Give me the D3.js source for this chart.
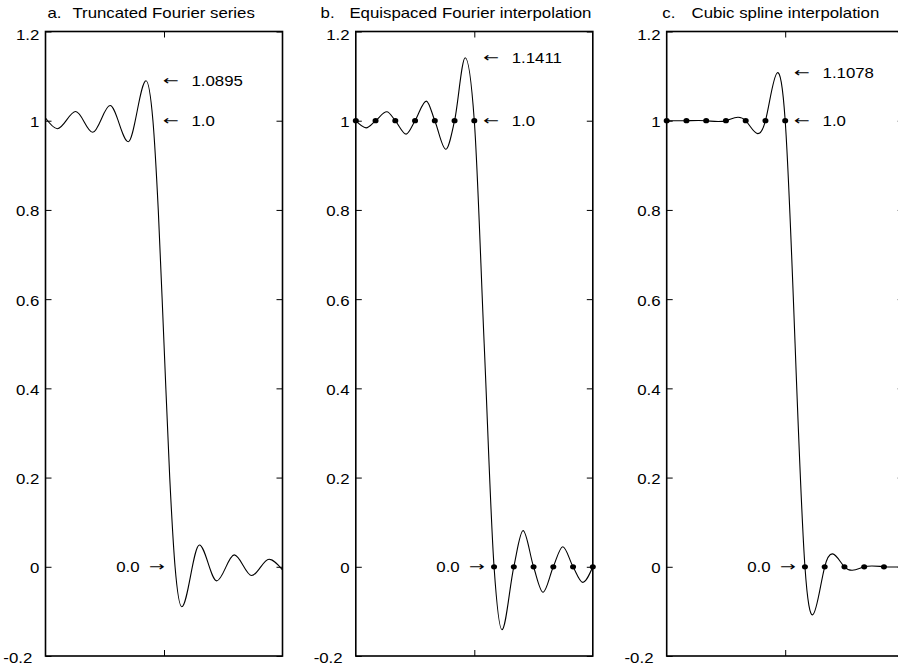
<!DOCTYPE html>
<html><head><meta charset="utf-8">
<script src="https://cdn.jsdelivr.net/npm/d3@7"></script>
<style>
html,body{margin:0;padding:0;background:#fff;}
svg{display:block;}
text{font-family:"Liberation Sans",Arial,Helvetica,sans-serif;font-size:14.5px;fill:#000;}
text.arrow{font-family:"DejaVu Sans",sans-serif;font-size:13px;}
</style></head><body>
<svg id="chart" width="898" height="669"></svg>
<script>
// Unit step sampled on 13 equispaced nodes (node spacing = 1)
const nodeX = [-6, -5, -4, -3, -2, -1, 0, 1, 2, 3, 4, 5, 6];
const nodeY = [1, 1, 1, 1, 1, 1, 1, 0, 0, 0, 0, 0, 0];

// a. Truncated Fourier series: extrema, level crossings and the drop through 0.5
const seriesAX = [-6, -5.40, -4.47, -3.61, -2.73, -1.81, -0.91, -0.56, -0.29, 0, 0.29, 0.56, 0.90, 1.79, 2.67, 3.56, 4.44, 5.32, 6];
const seriesAY = [1.006, 0.982, 1.0206, 0.974, 1.034, 0.953, 1.0895, 1.0, 0.80, 0.5, 0.20, 0.0, -0.0895, 0.049, -0.0316, 0.0267, -0.0197, 0.017, -0.007];

// b. Equispaced Fourier interpolant: extrema between the nodes and the jump midpoint
const seriesBX = [-5.48, -4.43, -3.45, -2.43, -1.44, -0.46, 0.5, 1.40, 2.47, 3.48, 4.48, 5.49];
const seriesBY = [0.984, 1.020, 0.970, 1.044, 0.936, 1.1411, 0.5, -0.1411, 0.081, -0.057, 0.045, -0.035];

// Panel captions
const panelLetters = ["a.", "b.", "c."];
const panelTitles = ["Truncated Fourier series", "Equispaced Fourier interpolation", "Cubic spline interpolation"];

// Overshoot annotated in each panel and where the jump sits
const overshoot = [1.0895, 1.1411, 1.1078];
const jumpAt = [0, 0.5, 0.5];
const upperLevel = 1.0;
const lowerLevel = 0.0;

// y axis
const yTicks = [-0.2, 0, 0.2, 0.4, 0.6, 0.8, 1, 1.2];
const yTickLabels = ["-0.2", "0", "0.2", "0.4", "0.6", "0.8", "1", "1.2"];

// ---- layout ----
const SX = 1.16;                       // horizontal text stretch
const ARROW_SX = 1.45;                 // arrows are drawn longer
const panelLeft = [45.5, 355.8, 666.7];
const panelW = 237;
const yTop = 31.5, yBottom = 656;
const letterX = [47.4, 320.6, 662.3];
const titleX = [72.4, 349.4, 691.5];
const titleY = 18.3;

const svg = d3.select("#chart");
const y = d3.scaleLinear().domain([-0.2, 1.2]).range([yBottom, yTop]);

const nodes = nodeX.map((x, i) => ({x, y: nodeY[i]}));
const curveA = seriesAX.map((x, i) => ({x, y: seriesAY[i]}));
const curveB = nodes.concat(seriesBX.map((x, i) => ({x, y: seriesBY[i]})))
  .sort((p, q) => p.x - q.x);

const panels = [
  {pts: curveA, curve: d3.curveMonotoneX, dots: false},
  {pts: curveB, curve: d3.curveMonotoneX, dots: true},
  {pts: nodes, curve: d3.curveNatural, dots: true}
];

function label(g, x, yy, str, anchor, sx = SX, cls = null) {
  return g.append("text")
    .attr("class", cls)
    .attr("transform", `translate(${x},${yy}) scale(${sx},1)`)
    .attr("text-anchor", anchor)
    .attr("xml:space", "preserve")
    .style("white-space", "pre")
    .text(str);
}

const fmt4 = d3.format(".4f"), fmt1 = d3.format(".1f");

panels.forEach((p, k) => {
  const x0 = panelLeft[k], x1 = x0 + panelW;
  const x = d3.scaleLinear().domain([-6, 6]).range([x0, x1]);
  const g = svg.append("g");

  // titles
  label(g, letterX[k], titleY, panelLetters[k], "start");
  label(g, titleX[k], titleY, panelTitles[k], "start");

  // left axis with inward ticks and labels
  const gl = g.append("g").attr("transform", `translate(${x0},0)`)
    .call(d3.axisLeft(y).tickValues(yTicks).tickFormat((d, i) => yTickLabels[i]).tickSize(-6).tickSizeOuter(0));
  gl.attr("font-size", null).attr("font-family", null);
  gl.select(".domain").remove();
  gl.selectAll(".tick text")
    .attr("x", null).attr("dy", null)
    .attr("transform", d => `translate(${d === -0.2 ? -13.2 : -6.2},${d === 1.2 ? 7.5 : 6.0}) scale(${SX},1)`);

  // right, top and bottom ticks
  const gr = g.append("g").attr("transform", `translate(${x1},0)`)
    .call(d3.axisRight(y).tickValues(yTicks).tickFormat("").tickSize(-6).tickSizeOuter(0));
  gr.select(".domain").remove();
  const gt = g.append("g").attr("transform", `translate(0,${yTop})`)
    .call(d3.axisTop(x).tickValues([0]).tickFormat("").tickSize(-6).tickSizeOuter(0));
  gt.select(".domain").remove();
  const gb = g.append("g").attr("transform", `translate(0,${yBottom})`)
    .call(d3.axisBottom(x).tickValues([0]).tickFormat("").tickSize(-6).tickSizeOuter(0));
  gb.select(".domain").remove();

  // frame
  g.append("rect")
    .attr("x", x0).attr("y", yTop)
    .attr("width", panelW).attr("height", yBottom - yTop)
    .attr("fill", "none").attr("stroke", "#000").attr("stroke-width", 1.6);

  // curve
  const line = d3.line().x(d => x(d.x)).y(d => y(d.y)).curve(p.curve);
  g.append("path").attr("d", line(p.pts))
    .attr("fill", "none").attr("stroke", "#000").attr("stroke-width", 1.1);

  // interpolation nodes
  if (p.dots) {
    g.selectAll("ellipse.node").data(nodes).join("ellipse")
      .attr("class", "node")
      .attr("cx", d => x(d.x)).attr("cy", d => y(d.y))
      .attr("rx", 3).attr("ry", 2.6).attr("fill", "#000");
  }

  // annotations
  const xj = x(jumpAt[k]);
  const ab = 4.2;  // arrow baseline offset
  label(g, xj - 1, y(overshoot[k]) + ab, "\u2190", "start", ARROW_SX, "arrow");
  label(g, xj + 27.5, y(overshoot[k]) + 5.2, fmt4(overshoot[k]), "start");
  label(g, xj - 1, y(upperLevel) + ab, "\u2190", "start", ARROW_SX, "arrow");
  label(g, xj + 27.5, y(upperLevel) + 5.2, fmt1(upperLevel), "start");
  label(g, xj - 24.5, y(lowerLevel) + 5.2, fmt1(lowerLevel), "end");
  label(g, xj + 1, y(lowerLevel) + ab, "\u2192", "end", ARROW_SX, "arrow");
});
</script>
</body></html>
